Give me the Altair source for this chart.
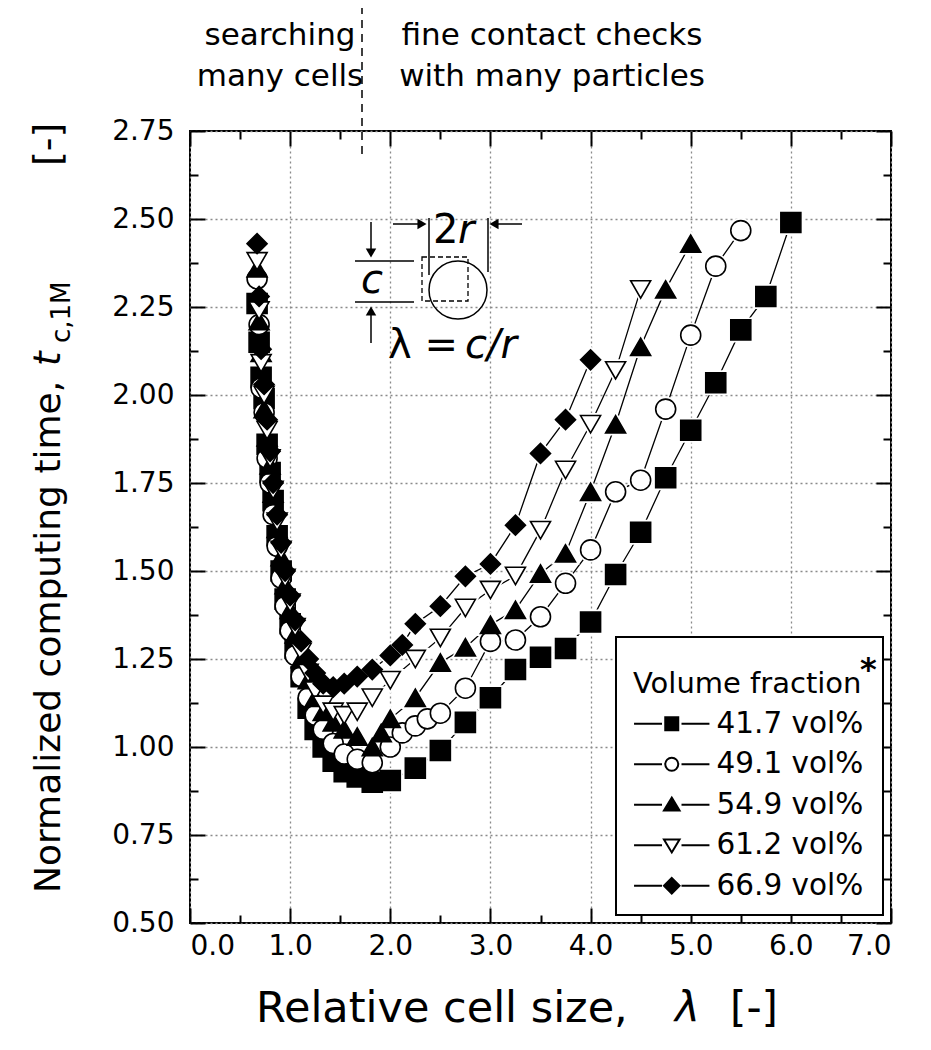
import altair as alt
import pandas as pd

SERIES = ["41.7 vol%", "49.1 vol%", "54.9 vol%", "61.2 vol%", "66.9 vol%"]

lam_417 = [0.67, 0.69, 0.71, 0.74, 0.77, 0.80, 0.83, 0.87, 0.91, 0.95, 1.00, 1.05, 1.11, 1.18,
           1.25, 1.33, 1.43, 1.54, 1.67, 1.82, 2.00, 2.25, 2.50, 2.75, 3.00, 3.25, 3.50, 3.75,
           4.00, 4.25, 4.50, 4.75, 5.00, 5.25, 5.50, 5.75, 6.00]
t_417 = [2.26, 2.15, 2.05, 1.99, 1.86, 1.78, 1.70, 1.60, 1.50, 1.42, 1.35, 1.28, 1.20, 1.11,
         1.05, 1.00, 0.96, 0.93, 0.915, 0.90, 0.905, 0.94, 0.99, 1.07, 1.14, 1.22, 1.255, 1.28,
         1.355, 1.49, 1.61, 1.765, 1.90, 2.035, 2.185, 2.28, 2.49]

lam_491 = [0.67, 0.69, 0.71, 0.74, 0.77, 0.80, 0.83, 0.87, 0.91, 0.95, 1.00, 1.05, 1.11, 1.18,
           1.25, 1.33, 1.43, 1.54, 1.67, 1.82, 2.00, 2.12, 2.25, 2.37, 2.50, 2.75, 3.00, 3.25,
           3.50, 3.75, 4.00, 4.25, 4.50, 4.75, 5.00, 5.25, 5.50]
t_491 = [2.33, 2.20, 2.02, 1.95, 1.82, 1.75, 1.66, 1.57, 1.48, 1.40, 1.33, 1.26, 1.20, 1.14,
         1.09, 1.05, 1.01, 0.98, 0.965, 0.955, 1.00, 1.04, 1.06, 1.08, 1.096, 1.167, 1.30, 1.304,
         1.37, 1.465, 1.56, 1.725, 1.758, 1.96, 2.17, 2.366, 2.467]

lam_549 = [0.67, 0.69, 0.71, 0.74, 0.77, 0.80, 0.83, 0.87, 0.91, 0.95, 1.00, 1.05, 1.11, 1.18,
           1.25, 1.33, 1.43, 1.54, 1.67, 1.82, 1.91, 2.00, 2.25, 2.50, 2.75, 3.00, 3.25, 3.50,
           3.75, 4.00, 4.25, 4.50, 4.75, 5.00]
t_549 = [2.36, 2.21, 2.12, 1.96, 1.88, 1.80, 1.72, 1.62, 1.54, 1.46, 1.39, 1.32, 1.25, 1.19,
         1.14, 1.10, 1.07, 1.05, 1.03, 1.00, 1.04, 1.08, 1.14, 1.24, 1.283, 1.347, 1.39, 1.493,
         1.55, 1.725, 1.917, 2.137, 2.30, 2.43]

lam_612 = [0.67, 0.69, 0.71, 0.74, 0.77, 0.80, 0.83, 0.87, 0.91, 0.95, 1.00, 1.05, 1.11, 1.18,
           1.25, 1.33, 1.43, 1.54, 1.67, 1.82, 2.00, 2.25, 2.50, 2.75, 3.00, 3.25, 3.50, 3.75,
           4.00, 4.25, 4.50]
t_612 = [2.38, 2.24, 2.09, 2.00, 1.90, 1.82, 1.73, 1.64, 1.56, 1.48, 1.41, 1.34, 1.27, 1.21,
         1.16, 1.12, 1.10, 1.09, 1.10, 1.14, 1.19, 1.25, 1.31, 1.395, 1.446, 1.486, 1.616, 1.787,
         1.917, 2.07, 2.30]

lam_669 = [0.67, 0.69, 0.71, 0.74, 0.77, 0.80, 0.83, 0.87, 0.91, 0.95, 1.00, 1.05, 1.11, 1.18,
           1.25, 1.33, 1.43, 1.54, 1.67, 1.82, 2.00, 2.12, 2.25, 2.50, 2.75, 3.00, 3.25, 3.50,
           3.75, 4.00]
t_669 = [2.43, 2.28, 2.13, 2.03, 1.93, 1.84, 1.75, 1.66, 1.58, 1.50, 1.43, 1.36, 1.30, 1.25,
         1.21, 1.18, 1.17, 1.18, 1.20, 1.22, 1.26, 1.29, 1.35, 1.40, 1.485, 1.52, 1.63, 1.834,
         1.93, 2.10]

X_TICKS = [0.0, 1.0, 2.0, 3.0, 4.0, 5.0, 6.0, 7.0]
X_MINOR = [0.5, 1.5, 2.5, 3.5, 4.5, 5.5, 6.5]
Y_TICKS = [0.50, 0.75, 1.00, 1.25, 1.50, 1.75, 2.00, 2.25, 2.50, 2.75]
Y_MINOR = [0.625, 0.875, 1.125, 1.375, 1.625, 1.875, 2.125, 2.375, 2.625]

rows = []
for name, xs_, ys_ in zip(SERIES, [lam_417, lam_491, lam_549, lam_612, lam_669],
                          [t_417, t_491, t_549, t_612, t_669]):
    for i, (a, b) in enumerate(zip(xs_, ys_)):
        rows.append({"series": name, "lam": a, "t": b, "idx": i})
df = pd.DataFrame(rows)

FONT = "DejaVu Sans"
W, H = 701, 792
OX, OY = 190, 131  # page position of plot origin

SHAPES = ["square", "circle", "triangle-up", "triangle-down", "diamond"]
FILLS = ["black", "white", "black", "white", "black"]
SIZES = [400, 400, 700, 700, 620]

LINES = "M-2.9,0H-0.75M0.75,0H2.9"
CIRC = ("M0.5,0C0.5,0.276,0.276,0.5,0,0.5C-0.276,0.5,-0.5,0.276,-0.5,0"
        "C-0.5,-0.276,-0.276,-0.5,0,-0.5C0.276,-0.5,0.5,-0.276,0.5,0Z")
LEG_PATHS = [
    LINES + "M-0.5,-0.5H0.5V0.5H-0.5Z",
    LINES + CIRC,
    LINES + "M0,-0.55L0.6,0.45H-0.6Z",
    LINES + "M0,0.55L0.6,-0.45H-0.6Z",
    LINES + "M0,-0.6L0.6,0L0,0.6L-0.6,0Z",
]

xs = alt.Scale(domain=[0, 7], nice=False, zero=False)
ys = alt.Scale(domain=[0.5, 2.75], nice=False, zero=False)

grid_kw = dict(grid=True, gridDash=[2, 3], gridColor="#8a8a8a", gridWidth=1.3)


def tick_axis(orient, offset, values, size):
    return alt.Axis(orient=orient, offset=offset, values=values, labels=False, domain=False,
                    grid=False, tickSize=size, tickWidth=2, tickColor="black", title=None)


base = alt.Chart(df)

lines = base.mark_line(color="black", strokeWidth=1.3).encode(
    x=alt.X("lam:Q", scale=xs,
            axis=alt.Axis(orient="bottom", values=X_TICKS, format=".1f", ticks=False,
                          domain=False, labelPadding=9, title=None, **grid_kw)),
    y=alt.Y("t:Q", scale=ys,
            axis=alt.Axis(orient="left", values=Y_TICKS, format=".2f", ticks=False,
                          domain=False, labelPadding=16, title=None, **grid_kw)),
    detail="series:N",
    order="idx:Q",
)


def carrier(xax, yax):
    return base.mark_point(opacity=0).encode(
        x=alt.X("lam:Q", scale=xs, axis=xax),
        y=alt.Y("t:Q", scale=ys, axis=yax),
    )


c1 = carrier(tick_axis("top", -H, X_TICKS, 15), tick_axis("right", -W, Y_TICKS, 15))
c2 = carrier(tick_axis("top", -H, X_MINOR, 8), tick_axis("right", -W, Y_MINOR, 8))
c3 = carrier(tick_axis("bottom", -H, X_TICKS, 15), tick_axis("left", -W, Y_TICKS, 15))
c4 = carrier(tick_axis("bottom", -H, X_MINOR, 8), tick_axis("left", -W, Y_MINOR, 8))

shape_enc = alt.Shape("series:N", scale=alt.Scale(domain=SERIES, range=SHAPES), legend=None)
size_enc = alt.Size("series:N", scale=alt.Scale(domain=SERIES, range=SIZES), legend=None)
X_NOAX = alt.X("lam:Q", scale=xs, axis=None)
Y_NOAX = alt.Y("t:Q", scale=ys, axis=None)

halo = base.mark_point(filled=True, fill="white", stroke="white", strokeWidth=5,
                       opacity=1).encode(
    x=X_NOAX, y=Y_NOAX, shape=shape_enc, size=size_enc,
)

points = base.mark_point(filled=True, stroke="black", strokeWidth=1.6, opacity=1).encode(
    x=X_NOAX, y=Y_NOAX, shape=shape_enc, size=size_enc,
    fill=alt.Fill("series:N", scale=alt.Scale(domain=SERIES, range=FILLS), legend=None),
)


def P(x, y):
    return x - OX, y - OY


def one():
    return pd.DataFrame({"t": [""]})


def text(s, x, y, size, italic=False, align="left", angle=0, baseline="alphabetic",
         bold=False):
    px, py = P(x, y)
    kw = dict(font=FONT, fontSize=size, color="black", align=align, baseline=baseline,
              text=s)
    if italic:
        kw["fontStyle"] = "italic"
    if bold:
        kw["fontWeight"] = "bold"
    if angle:
        kw["angle"] = angle
    return alt.Chart(one()).mark_text(**kw).encode(x=alt.value(px), y=alt.value(py))


def rule(x1, y1, x2, y2, width=1.5, dash=None):
    a, b = P(x1, y1)
    c, d = P(x2, y2)
    kw = dict(color="black", strokeWidth=width)
    if dash:
        kw["strokeDash"] = dash
    return alt.Chart(one()).mark_rule(**kw).encode(
        x=alt.value(a), y=alt.value(b), x2=alt.value(c), y2=alt.value(d))


def head(x, y, shape, size=110):
    a, b = P(x, y)
    return alt.Chart(one()).mark_point(shape=shape, filled=True, color="black", size=size,
                                       opacity=1).encode(x=alt.value(a), y=alt.value(b))


def rect(x1, y1, x2, y2, width=1.5, dash=None, fill=None):
    a, b = P(x1, y1)
    c, d = P(x2, y2)
    kw = dict(stroke="black", strokeWidth=width, fill=fill if fill else "transparent")
    if dash:
        kw["strokeDash"] = dash
    return alt.Chart(one()).mark_rect(**kw).encode(
        x=alt.value(a), y=alt.value(b), x2=alt.value(c), y2=alt.value(d))


cx, cy = P(458, 290)
circle = alt.Chart(one()).mark_point(shape="circle", size=3364, stroke="black",
                                     strokeWidth=1.5, filled=False, opacity=1).encode(
    x=alt.value(cx), y=alt.value(cy))

annotations = [
    # top notes
    text("searching", 280, 45, 31, align="center"),
    text("many cells", 280, 86, 31, align="center"),
    text("fine contact checks", 552, 45, 31, align="center"),
    text("with many particles", 552, 86, 31, align="center"),
    rule(362, 6, 362, 157, width=1.5, dash=[8, 6]),
    # inset
    text("2", 433, 243, 40),
    text("r", 458, 243, 40, italic=True),
    rule(393, 224, 420, 224),
    head(422, 224, "triangle-right"),
    rule(522, 224, 497, 224),
    head(494, 224, "triangle-left"),
    rule(429, 218, 429, 275),
    rule(488, 218, 488, 272),
    rule(355, 261, 414, 261),
    rule(355, 302, 414, 302),
    rule(371, 222, 371, 250),
    head(371, 253, "triangle-down"),
    rule(371, 343, 371, 314),
    head(371, 311, "triangle-up"),
    text("c", 372, 293, 40, italic=True, align="center"),
    rect(422, 257, 468, 301, width=1.3, dash=[5, 3]),
    circle,
    text("λ =", 388, 358, 40),
    text("c/r", 465, 358, 40, italic=True),
    # legend box + title
    rect(616, 637, 883, 915, width=2, fill="white"),
    text("Volume fraction", 633, 693, 29),
    text("*", 860, 680, 32, bold=True),
    # axis titles
    text("Relative cell size,", 256, 1022, 43),
    text("λ", 675, 1022, 42, italic=True),
    text("[-]", 730, 1022, 42),
    text("Normalized computing time,", 60, 893, 36, angle=270),
    text("t", 60, 366, 37, italic=True, angle=270),
    text("c,1M", 70, 343, 26, angle=270),
    text("[-]", 60, 166, 38, angle=270),
]

lx, ly = P(657, 700)
leg = dict(orient="none", legendX=lx, legendY=ly + 9, title=None,
           labelFont=FONT, labelFontSize=29.5, labelColor="black",
           symbolSize=676, symbolStrokeWidth=2, labelOffset=30,
           rowPadding=9.5, padding=0, labelLimit=400)
legend_layer = alt.Chart(df).transform_filter("false").mark_point(
    filled=True, stroke="black", strokeWidth=2, size=676, opacity=1).encode(
    x=X_NOAX, y=Y_NOAX,
    shape=alt.Shape("series:N", scale=alt.Scale(domain=SERIES, range=LEG_PATHS),
                    legend=alt.Legend(**leg)),
    fill=alt.Fill("series:N", scale=alt.Scale(domain=SERIES, range=FILLS),
                  legend=alt.Legend(**leg)),
)

chart = alt.layer(
    lines, c1, c2, c3, c4, halo, points, *annotations, legend_layer
).resolve_scale(
    shape="independent", fill="independent"
).resolve_axis(
    x="independent", y="independent"
).properties(
    width=W, height=H,
    autosize=alt.AutoSizeParams(type="none"),
    padding={"left": OX - 8, "top": OY - 8, "right": 30, "bottom": 110},
).configure_view(
    stroke="black", strokeWidth=2
).configure_axis(
    labelFont=FONT, labelFontSize=28, labelColor="black"
)

chart.save("out.html", embed_options={"renderer": "svg", "actions": False})
